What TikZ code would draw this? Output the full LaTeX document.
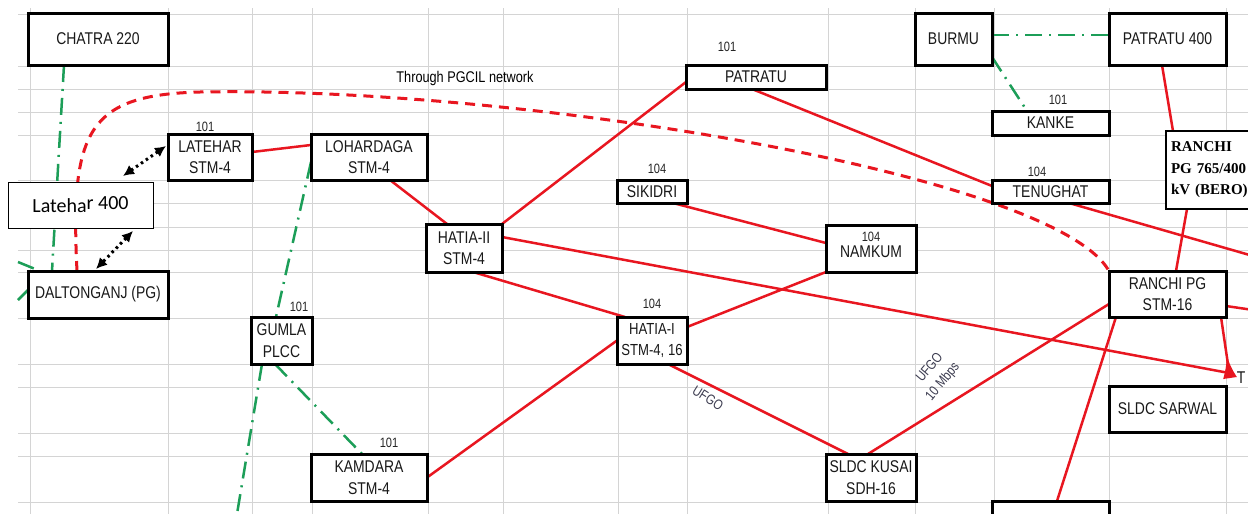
\documentclass[tikz,border=0pt]{standalone}
\usepackage{fontspec}
\newfontfamily\nar[FakeStretch=0.82]{Liberation Sans}
\newfontfamily\calfont{Carlito}
\newfontfamily\serifb{Liberation Serif}
\usetikzlibrary{arrows.meta,calc}
\definecolor{lred}{RGB}{232,22,32}
\definecolor{lgreen}{RGB}{28,158,88}
\definecolor{gridc}{RGB}{212,212,212}
\definecolor{lbl}{RGB}{60,60,80}
\pgfdeclarelayer{gridlayer}
\pgfdeclarelayer{linelayer}
\pgfsetlayers{gridlayer,linelayer,main}
\tikzset{
  stbox/.style={draw=black, line width=3pt, fill=white, inner sep=0pt, outer sep=0pt, align=center, text=black!90,
    font=\nar\fontsize{17}{21.5}\selectfont},
  thinbox/.style={draw=black, line width=1pt, fill=white, inner sep=0pt, outer sep=0pt},
  numlbl/.style={font=\nar\fontsize{13.5}{13.5}\selectfont, inner sep=0pt, text=black!85},
  txt/.style={font=\nar\fontsize{17}{21.5}\selectfont, inner sep=0pt, text=black!90},
  redline/.style={draw=lred, line width=2.5pt},
  greenline/.style={draw=lgreen, line width=2.5pt, dash pattern=on 17pt off 7pt on 2pt off 7pt},
  reddash/.style={draw=lred, line width=3pt, dash pattern=on 10pt off 7pt},
  dotarrow/.style={draw=black, line width=3pt, dash pattern=on 2.5pt off 3.5pt,
    {Latex[length=11pt,width=11pt]}-{Latex[length=11pt,width=11pt]}},
  gridline/.style={draw=gridc, line width=1pt},
  smalllbl/.style={font=\nar\fontsize{14}{16}\selectfont, text=lbl, inner sep=0pt}
}
\begin{document}
\begin{tikzpicture}[x=1pt,y=-1pt]
\useasboundingbox (0,0) rectangle (1248,514);
\clip (0,0) rectangle (1248,514);

% grid
\begin{pgfonlayer}{gridlayer}
\fill[white] (0,0) rectangle (1248,514);
\foreach \x in {30,168,252,312,428,503,618,687,828,915,994,1109,1226}
  \draw[gridline] (\x,8) -- (\x,514);
\foreach \y in {14,66,89,112,135,180,203,227,250,272,318,364,387,433,456,502}
  \draw[gridline] (18,\y) -- (1248,\y);
\end{pgfonlayer}

% boxes
\node[stbox, minimum width=140pt, minimum height=52pt] (chatra) at (98,39) {CHATRA 220};
\node[stbox, minimum width=84pt, minimum height=46pt] (latehar) at (210,157) {LATEHAR\\STM-4};
\node[stbox, minimum width=116pt, minimum height=46pt] (lohar) at (369,157) {LOHARDAGA\\STM-4};
\node[stbox, minimum width=76pt, minimum height=48pt] (hatia2) at (464,248) {HATIA-II\\STM-4};
\node[stbox, minimum width=140pt, minimum height=47pt] (dalton) at (98,294.5) {DALTONGANJ (PG)};
\node[stbox, minimum width=61pt, minimum height=47pt] (gumla) at (281.5,340.5) {GUMLA\\PLCC};
\node[stbox, minimum width=116pt, minimum height=47pt] (kamdara) at (369,477.5) {KAMDARA\\STM-4};
\node[stbox, minimum width=70pt, minimum height=23pt] (sikidri) at (652,191.5) {SIKIDRI};
\node[stbox, minimum width=140pt, minimum height=24pt] (patratu) at (756,77) {PATRATU};
\node[stbox, minimum width=70pt, minimum height=47pt, font=\nar\fontsize{16}{21.5}\selectfont] (hatia1) at (652,340.5) {HATIA-I\\STM-4, 16};
\node[stbox, minimum width=90pt, minimum height=47pt] (namkum) at (871,248.5) {};
\node[stbox, minimum width=90pt, minimum height=47pt] (kusai) at (871,477.5) {SLDC KUSAI\\SDH-16};
\node[stbox, minimum width=77pt, minimum height=52pt] (burmu) at (953.5,39) {BURMU};
\node[stbox, minimum width=117pt, minimum height=52pt] (pat400) at (1167.5,39) {PATRATU 400};
\node[stbox, minimum width=117pt, minimum height=24pt] (kanke) at (1050.5,123) {KANKE};
\node[stbox, minimum width=117pt, minimum height=23pt] (tenughat) at (1050.5,191.5) {TENUGHAT};
\node[thinbox, draw, line width=1.5pt, minimum width=96pt, minimum height=78pt, text width=86pt, inner xsep=5pt,
      align=left, font=\serifb\bfseries\fontsize{15}{21.5}\selectfont] (ranchi765) at (1214,170)
      {RANCHI\\PG 765/400\\kV (BERO)};
\node[stbox, minimum width=117pt, minimum height=46pt] (ranchipg) at (1167.5,294) {RANCHI PG\\STM-16};
\node[stbox, minimum width=117pt, minimum height=46pt] (sarwal) at (1167.5,409) {SLDC SARWAL};
\node[stbox, minimum width=117pt, minimum height=40pt] (botbox) at (1050.5,521) {};
\node[thinbox, minimum width=145pt, minimum height=46pt, font=\calfont\fontsize{20}{24}\selectfont] (l400) at (80.5,205)
      {Lateha\raisebox{3pt}{r 400}};

% texts
\node[numlbl] (n1) at (205,127) {101};
\node[numlbl] (n2) at (299,307) {101};
\node[numlbl] (n3) at (389,443) {101};
\node[numlbl] (n4) at (657,169) {104};
\node[numlbl] (n5) at (727,47) {101};
\node[numlbl] (n6) at (652,304) {104};
\node[numlbl] (n7) at (871,237) {104};
\node[numlbl] (n8) at (1058,100) {101};
\node[numlbl] (n9) at (1037,172) {104};
\node[txt] (namkumlbl) at (871,252) {NAMKUM};
\node[font=\nar\fontsize{15.5}{16}\selectfont, inner sep=0pt] (pgcil) at (465,78) {Through PGCIL network};
\node[smalllbl, rotate=-32] (ufgo1) at (708,398) {UFGO};
\node[smalllbl, rotate=50] (ufgo2a) at (929,367) {UFGO};
\node[smalllbl, rotate=50] (ufgo2b) at (943,382) {10 Mbps};
\node[txt, font=\nar\fontsize{17}{18}\selectfont] (tlbl) at (1241,378) {T};

% free ends
\coordinate (gl1) at (18,262);
\coordinate (gl2) at (18,300);
\coordinate (gbot) at (236,520);
\coordinate (tend) at (1229,373);
\coordinate (tarrow) at (1230,378);
\coordinate (rt1) at (1260,258);
\coordinate (rt2) at (1260,311);
\coordinate (a1s) at (123,176);
\coordinate (a1e) at (166,146);
\coordinate (a2s) at (133,231);
\coordinate (a2e) at (96,269);

\begin{pgfonlayer}{linelayer}
% green
\draw[greenline] ([xshift=-34pt]chatra.south) -- ([xshift=-46pt]dalton.north);
\draw[greenline] (gl1) -- ([xshift=12pt]dalton.north west);
\draw[greenline] (gl2) -- ([yshift=4.5pt]dalton.west);
\draw[greenline] ([yshift=-5pt]lohar.west) -- ([xshift=-5.5pt]gumla.north);
\draw[greenline] ([xshift=-19.5pt]gumla.south) -- (gbot);
\draw[greenline] ([xshift=-6.5pt]gumla.south) -- ([xshift=-7pt]kamdara.north);
\draw[greenline] ([yshift=4pt]burmu.east) -- ([yshift=4pt]pat400.west);
\draw[greenline] ([yshift=-18pt]burmu.east) -- ([xshift=-23.5pt]kanke.north);
% red
\draw[redline] ([yshift=5pt]latehar.east) -- ([yshift=12pt]lohar.west);
\draw[redline] ([xshift=21pt]lohar.south) -- ([xshift=-17pt]hatia2.north);
\draw[redline] (hatia2.north east) -- ([yshift=-5pt]patratu.west);
\draw[redline] ([yshift=11pt]hatia2.east) -- (tend);
\draw[redline] ([xshift=9pt]hatia2.south) -- ([xshift=-27pt]hatia1.north);
\draw[redline] (kamdara.east) -- (hatia1.west);
\draw[redline] ([yshift=13.5pt]hatia1.east) -- (namkum.south west);
\draw[redline] ([xshift=21pt]sikidri.south) -- ([yshift=5.5pt]namkum.west);
\draw[redline] ([xshift=-4pt]patratu.south) -- ([yshift=5.5pt]tenughat.west);
\draw[redline] ([xshift=16pt]hatia1.south) -- ([xshift=-23pt]kusai.north);
\draw[redline] ([xshift=-3pt]kusai.north) -- ([yshift=-10pt]ranchipg.west);
\draw[redline] ([xshift=-5.5pt]pat400.south) -- ([xshift=-41pt]ranchi765.north);
\draw[redline] ([xshift=-27pt]ranchi765.south) -- ([xshift=8.5pt]ranchipg.north);
\draw[redline] ([xshift=18.5pt]tenughat.south) -- (rt1);
\draw[redline] ([yshift=-12pt]ranchipg.east) -- (rt2);
\draw[redline] ([xshift=-51.5pt]ranchipg.south) -- ([xshift=6.5pt]botbox.north);
\draw[redline, -{Latex[reversed, length=22pt, width=14pt]}] ([xshift=53.5pt]ranchipg.south) -- (tarrow);
% dashed PGCIL
\draw[reddash] ([xshift=-21pt]dalton.north) .. controls (70,130) and (88,95) .. (200,92)
  .. controls (520,86) and (1055,175) .. (ranchipg.north west);
\end{pgfonlayer}

% dotted arrows
\draw[dotarrow] (a1s) -- (a1e);
\draw[dotarrow] (a2s) -- (a2e);
\end{tikzpicture}
\end{document}
